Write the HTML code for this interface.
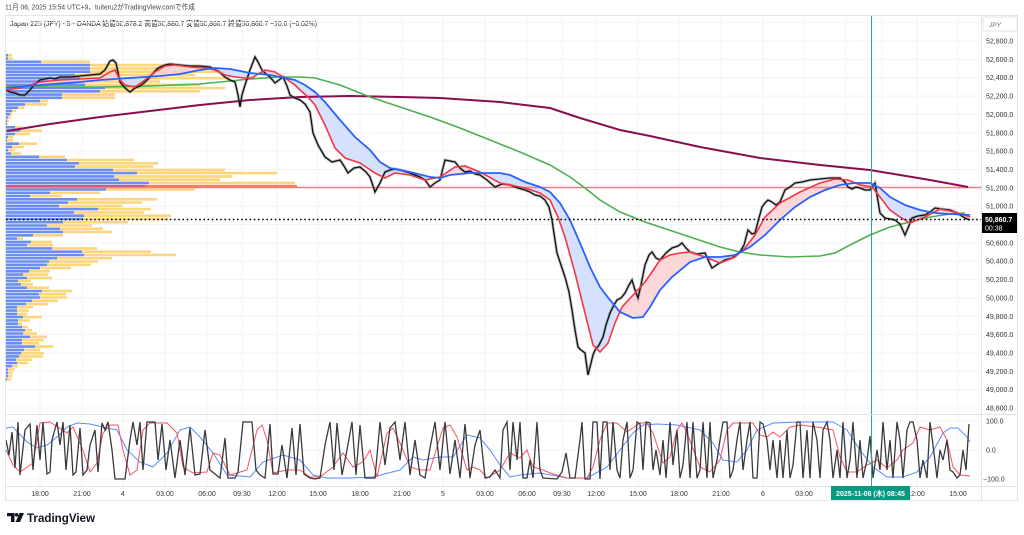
<!DOCTYPE html>
<html><head><meta charset="utf-8"><style>
html,body{margin:0;padding:0;background:#fff;width:1024px;height:535px;overflow:hidden}
svg{display:block}
text{font-family:"Liberation Sans","Noto Sans CJK JP",sans-serif}
</style></head><body>
<svg width="1024" height="535" viewBox="0 0 1024 535" xmlns="http://www.w3.org/2000/svg">
<defs>
<clipPath id="chart"><rect x="5" y="15" width="976" height="399"/></clipPath>
<clipPath id="osc"><rect x="5" y="415" width="976" height="71"/></clipPath>
<clipPath id="belowB"><polygon points="6,88 40,85 80,82 100,80 130,78 160,76 180,74 200,70 215,68 230,69 250,73 270,75 285,78 295,80 305,85 315,92 325,102 340,120 355,137 370,150 380,162 390,168 410,172 430,177 440,178 450,175 470,173 500,173 510,175 525,182 540,187 550,192 560,203 570,220 580,243 590,267 600,287 610,300 620,312 633,318 643,317 650,307 660,290 672,277 690,262 705,257 720,257 735,255 750,247 765,235 780,220 795,207 810,197 825,190 840,185 855,183 870,183 880,188 890,197 905,205 920,210 935,213 950,214 970,215 970,414 6,414"/></clipPath>
<clipPath id="aboveB"><polygon points="6,88 40,85 80,82 100,80 130,78 160,76 180,74 200,70 215,68 230,69 250,73 270,75 285,78 295,80 305,85 315,92 325,102 340,120 355,137 370,150 380,162 390,168 410,172 430,177 440,178 450,175 470,173 500,173 510,175 525,182 540,187 550,192 560,203 570,220 580,243 590,267 600,287 610,300 620,312 633,318 643,317 650,307 660,290 672,277 690,262 705,257 720,257 735,255 750,247 765,235 780,220 795,207 810,197 825,190 840,185 855,183 870,183 880,188 890,197 905,205 920,210 935,213 950,214 970,215 970,15 6,15"/></clipPath>
</defs>
<rect width="1024" height="535" fill="#fff"/>

<!-- header -->
<text x="5" y="9.5" font-size="7.5" fill="#444" textLength="190" lengthAdjust="spacingAndGlyphs">11月 06, 2025 15:54 UTC+9、tuiteru2がTradingView.comで作成</text>
<text x="10" y="26" font-size="7.5" fill="#222" textLength="307" lengthAdjust="spacingAndGlyphs">Japan 225 (JPY) - 5 - OANDA  始値50,878.2  高値50,880.7  安値50,860.7  終値50,860.7  −10.0 (−0.02%)</text>

<!-- grid -->
<g stroke="#f0f3fa" stroke-width="1">
<path d="M5 22.6H981M5 41H981M5 59.4H981M5 77.7H981M5 96.1H981M5 114.4H981M5 132.8H981M5 151.1H981M5 169.5H981M5 187.8H981M5 206.2H981M5 224.5H981M5 242.9H981M5 261.2H981M5 279.6H981M5 297.9H981M5 316.3H981M5 334.6H981M5 353H981M5 371.3H981M5 389.7H981M5 408H981"/>
<path d="M5 421H981M5 450H981M5 479H981"/>
<path d="M40 15V486M82 15V486M123 15V486M165 15V486M207 15V486M242 15V486M277 15V486M318 15V486M360 15V486M402 15V486M443 15V486M485 15V486M527 15V486M562 15V486M596 15V486M638 15V486M679 15V486M721 15V486M763 15V486M804 15V486M846 15V486M882 15V486M917 15V486M958 15V486"/>
</g>

<!-- volume profile -->
<g clip-path="url(#chart)">
<path fill="#6a8ef2" d="M6 54H8v2.6H6zM6 57.3H8v2.6H6zM6 60.5H41v2.6H6zM6 63.8H90v2.6H6zM6 67.1H90v2.6H6zM6 70.4H90v2.6H6zM6 73.6H75v2.6H6zM6 76.9H80v2.6H6zM6 80.2H80v2.6H6zM6 83.5H85v2.6H6zM6 86.7H105v2.6H6zM6 90H100v2.6H6zM6 93.3H62v2.6H6zM6 96.5H62v2.6H6zM6 99.8H40v2.6H6zM6 103.1H25v2.6H6zM6 106.4H18v2.6H6zM6 109.6H12v2.6H6zM6 112.9H10v2.6H6zM6 116.2H8v2.6H6zM6 119.5H7v2.6H6zM6 122.7H7v2.6H6zM6 126H15v2.6H6zM6 129.3H20v2.6H6zM6 132.6H15v2.6H6zM6 135.8H8v2.6H6zM6 139.1H7v2.6H6zM6 142.4H19v2.6H6zM6 145.6H12v2.6H6zM6 148.9H8v2.6H6zM6 152.2H11v2.6H6zM6 155.5H39v2.6H6zM6 158.7H67v2.6H6zM6 162H79v2.6H6zM6 165.3H75v2.6H6zM6 168.6H113v2.6H6zM6 171.8H137v2.6H6zM6 175.1H114v2.6H6zM6 178.4H119v2.6H6zM6 181.6H149v2.6H6zM6 184.9H145v2.6H6zM6 188.2H106v2.6H6zM6 191.5H50v2.6H6zM6 194.7H30v2.6H6zM6 198H77v2.6H6zM6 201.3H68v2.6H6zM6 204.6H59v2.6H6zM6 207.8H98v2.6H6zM6 211.1H74v2.6H6zM6 214.4H84v2.6H6zM6 217.7H83v2.6H6zM6 220.9H63v2.6H6zM6 224.2H47v2.6H6zM6 227.5H60v2.6H6zM6 230.7H63v2.6H6zM6 234H33v2.6H6zM6 237.3H17v2.6H6zM6 240.6H31v2.6H6zM6 243.8H27v2.6H6zM6 247.1H52v2.6H6zM6 250.4H82v2.6H6zM6 253.7H84v2.6H6zM6 256.9H57v2.6H6zM6 260.2H49v2.6H6zM6 263.5H47v2.6H6zM6 266.8H40v2.6H6zM6 270H29v2.6H6zM6 273.3H23v2.6H6zM6 276.6H27v2.6H6zM6 279.8H18v2.6H6zM6 283.1H21v2.6H6zM6 286.4H27v2.6H6zM6 289.7H42v2.6H6zM6 292.9H39v2.6H6zM6 296.2H40v2.6H6zM6 299.5H32v2.6H6zM6 302.8H26v2.6H6zM6 306H17v2.6H6zM6 309.3H17v2.6H6zM6 312.6H17v2.6H6zM6 315.8H23v2.6H6zM6 319.1H18v2.6H6zM6 322.4H18v2.6H6zM6 325.7H22v2.6H6zM6 328.9H25v2.6H6zM6 332.2H23v2.6H6zM6 335.5H30v2.6H6zM6 338.8H22v2.6H6zM6 342H22v2.6H6zM6 345.3H35v2.6H6zM6 348.6H24v2.6H6zM6 351.9H21v2.6H6zM6 355.1H19v2.6H6zM6 358.4H16v2.6H6zM6 361.7H17v2.6H6zM6 364.9H12v2.6H6zM6 368.2H8v2.6H6zM6 371.5H8v2.6H6zM6 374.8H8v2.6H6zM6 378H7v2.6H6z"/>
<path fill="#fdd57c" d="M8 54H12v2.6H8zM8 57.3H13v2.6H8zM41 60.5H90v2.6H41zM90 63.8H180v2.6H90zM90 67.1H205v2.6H90zM90 70.4H230v2.6H90zM75 73.6H195v2.6H75zM80 76.9H230v2.6H80zM80 80.2H160v2.6H80zM85 83.5H200v2.6H85zM105 86.7H225v2.6H105zM100 90H200v2.6H100zM62 93.3H115v2.6H62zM62 96.5H115v2.6H62zM40 99.8H48v2.6H40zM25 103.1H47v2.6H25zM18 106.4H24v2.6H18zM12 109.6H16v2.6H12zM10 112.9H12v2.6H10zM8 116.2H11v2.6H8zM7 119.5H9v2.6H7zM7 122.7H8v2.6H7zM15 126H22v2.6H15zM20 129.3H42v2.6H20zM15 132.6H30v2.6H15zM8 135.8H13v2.6H8zM7 139.1H13v2.6H7zM19 142.4H37v2.6H19zM12 145.6H24v2.6H12zM8 148.9H15v2.6H8zM11 152.2H21v2.6H11zM39 155.5H65v2.6H39zM67 158.7H134v2.6H67zM79 162H158v2.6H79zM75 165.3H153v2.6H75zM113 168.6H225v2.6H113zM137 171.8H277v2.6H137zM114 175.1H232v2.6H114zM119 178.4H220v2.6H119zM149 181.6H295v2.6H149zM145 184.9H297v2.6H145zM106 188.2H195v2.6H106zM50 191.5H100v2.6H50zM30 194.7H62v2.6H30zM77 198H157v2.6H77zM68 201.3H142v2.6H68zM59 204.6H122v2.6H59zM98 207.8H151v2.6H98zM74 211.1H144v2.6H74zM84 214.4H171v2.6H84zM83 217.7H168v2.6H83zM63 220.9H128v2.6H63zM47 224.2H92v2.6H47zM60 227.5H103v2.6H60zM63 230.7H112v2.6H63zM33 234H63v2.6H33zM17 237.3H23v2.6H17zM31 240.6H52v2.6H31zM27 243.8H53v2.6H27zM52 247.1H97v2.6H52zM82 250.4H151v2.6H82zM84 253.7H176v2.6H84zM57 256.9H112v2.6H57zM49 260.2H98v2.6H49zM47 263.5H91v2.6H47zM40 266.8H71v2.6H40zM29 270H50v2.6H29zM23 273.3H48v2.6H23zM27 276.6H52v2.6H27zM18 279.8H31v2.6H18zM21 283.1H33v2.6H21zM27 286.4H49v2.6H27zM42 289.7H72v2.6H42zM39 292.9H66v2.6H39zM40 296.2H67v2.6H40zM32 299.5H58v2.6H32zM26 302.8H48v2.6H26zM17 306H33v2.6H17zM17 309.3H29v2.6H17zM17 312.6H27v2.6H17zM23 315.8H42v2.6H23zM18 319.1H30v2.6H18zM18 322.4H22v2.6H18zM22 325.7H28v2.6H22zM25 328.9H32v2.6H25zM23 332.2H37v2.6H23zM30 335.5H47v2.6H30zM22 338.8H44v2.6H22zM22 342H39v2.6H22zM35 345.3H53v2.6H35zM24 348.6H40v2.6H24zM21 351.9H44v2.6H21zM19 355.1H43v2.6H19zM16 358.4H32v2.6H16zM17 361.7H28v2.6H17zM12 364.9H18v2.6H12zM8 368.2H15v2.6H8zM8 371.5H13v2.6H8zM8 374.8H12v2.6H8zM7 378H11v2.6H7z"/>
<rect x="6" y="184.9" width="291" height="2.6" fill="#f23645" opacity="0.55"/>

<!-- MA fills -->
<polygon clip-path="url(#belowB)" fill="#d2defd" opacity="0.9" points="6,90 20,88 40,82 60,80 80,79 100,78 110,72 115,70 120,80 125,85 135,87 145,80 155,72 165,66 175,65 190,67 205,68 215,70 225,75 235,77 245,78 252,78 258,74 265,70 275,72 285,78 295,85 300,90 308,97 315,105 325,125 335,148 345,158 360,163 375,173 385,178 395,173 410,175 425,180 440,177 455,167 465,166 480,172 500,183 525,188 540,193 550,200 558,217 565,237 575,273 585,313 593,345 600,352 608,343 615,323 622,307 635,293 645,282 652,272 660,260 670,255 680,253 690,252 705,257 720,263 735,257 745,248 755,235 765,217 780,203 800,192 820,183 835,179 848,180 860,185 872,187 880,197 890,210 900,217 910,223 925,217 940,209 955,212 970,217 970,15 6,15"/>
<polygon clip-path="url(#aboveB)" fill="#fbd3d6" opacity="0.9" points="6,90 20,88 40,82 60,80 80,79 100,78 110,72 115,70 120,80 125,85 135,87 145,80 155,72 165,66 175,65 190,67 205,68 215,70 225,75 235,77 245,78 252,78 258,74 265,70 275,72 285,78 295,85 300,90 308,97 315,105 325,125 335,148 345,158 360,163 375,173 385,178 395,173 410,175 425,180 440,177 455,167 465,166 480,172 500,183 525,188 540,193 550,200 558,217 565,237 575,273 585,313 593,345 600,352 608,343 615,323 622,307 635,293 645,282 652,272 660,260 670,255 680,253 690,252 705,257 720,263 735,257 745,248 755,235 765,217 780,203 800,192 820,183 835,179 848,180 860,185 872,187 880,197 890,210 900,217 910,223 925,217 940,209 955,212 970,217 970,414 6,414"/>

<line x1="6" y1="187.5" x2="981" y2="187.5" stroke="#f77c80" stroke-width="1.4"/>

<polyline fill="none" stroke="#880e4f" stroke-width="2" points="7,131 50,124 100,117 150,111 200,105 250,100 300,97 350,96 400,97 440,98 500,102 550,108 580,118 620,130 650,136 700,147 760,158 820,165 870,170 900,175 930,180 968,187"/>
<polyline fill="none" stroke="#4caf50" stroke-width="1.6" points="6,86 50,87 100,87 150,86 200,84 250,79 280,77 300,77 315,78 340,85 370,97 400,107 430,117 460,128 490,140 520,152 550,165 570,177 585,188 600,200 620,212 645,222 660,227 690,237 720,247 740,252 760,255 790,257 820,256 835,253 850,245 870,235 890,227 910,222 930,217 950,214 965,213"/>

<polyline fill="none" stroke="#777" stroke-width="3" opacity="0.45" points="6,90 10,92 15,93 20,95 25,95 30,90 35,84 40,80 45,79 50,78 55,79 60,77 70,77 80,76 90,75 100,74 105,70 110,61 113,60 116,63 120,82 125,88 130,92 135,88 140,86 145,82 150,77 155,71 158,68 165,65 170,64 180,65 190,66 200,66 210,67 218,71 225,77 230,80 235,82 238,95 240,107 242,95 245,85 250,70 255,57 258,62 262,70 266,74 270,77 275,83 279,80 283,77 287,86 290,95 295,98 300,100 305,104 310,112 313,133 318,145 325,157 332,162 340,160 344,166 348,173 354,168 360,167 366,172 370,177 375,192 380,183 385,172 390,170 395,169 400,170 410,173 420,177 425,180 430,187 435,183 440,180 443,168 445,160 450,161 455,162 460,168 465,172 470,171 475,174 480,175 487,180 495,187 502,184 510,185 518,188 525,190 530,192 535,195 540,196 545,200 549,207 552,220 555,240 557,253 561,265 565,277 569,292 572,310 575,330 578,347 581,350 585,353 588,375 590,367 593,355 595,350 599,345 603,337 606,325 610,313 614,305 617,300 621,298 625,293 629,285 632,280 635,290 638,298 641,285 645,265 649,255 652,252 656,258 660,260 666,253 672,248 678,246 682,243 686,248 690,252 697,254 705,253 709,262 712,268 718,264 725,260 732,258 740,252 744,245 748,230 752,234 755,233 759,218 762,207 765,203 768,200 772,202 776,205 780,202 785,190 790,187 795,183 802,182 810,180 820,179 830,178 840,178 845,182 848,187 852,189 856,187 860,188 865,190 870,190 875,183 877,195 880,213 883,216 885,218 890,219 895,220 900,224 905,235 908,228 912,218 918,216 925,215 930,212 935,208 942,209 950,210 955,212 960,215 965,218 970,220"/>
<polyline fill="none" stroke="#111" stroke-width="1.3" points="6,90 10,92 15,93 20,95 25,95 30,90 35,84 40,80 45,79 50,78 55,79 60,77 70,77 80,76 90,75 100,74 105,70 110,61 113,60 116,63 120,82 125,88 130,92 135,88 140,86 145,82 150,77 155,71 158,68 165,65 170,64 180,65 190,66 200,66 210,67 218,71 225,77 230,80 235,82 238,95 240,107 242,95 245,85 250,70 255,57 258,62 262,70 266,74 270,77 275,83 279,80 283,77 287,86 290,95 295,98 300,100 305,104 310,112 313,133 318,145 325,157 332,162 340,160 344,166 348,173 354,168 360,167 366,172 370,177 375,192 380,183 385,172 390,170 395,169 400,170 410,173 420,177 425,180 430,187 435,183 440,180 443,168 445,160 450,161 455,162 460,168 465,172 470,171 475,174 480,175 487,180 495,187 502,184 510,185 518,188 525,190 530,192 535,195 540,196 545,200 549,207 552,220 555,240 557,253 561,265 565,277 569,292 572,310 575,330 578,347 581,350 585,353 588,375 590,367 593,355 595,350 599,345 603,337 606,325 610,313 614,305 617,300 621,298 625,293 629,285 632,280 635,290 638,298 641,285 645,265 649,255 652,252 656,258 660,260 666,253 672,248 678,246 682,243 686,248 690,252 697,254 705,253 709,262 712,268 718,264 725,260 732,258 740,252 744,245 748,230 752,234 755,233 759,218 762,207 765,203 768,200 772,202 776,205 780,202 785,190 790,187 795,183 802,182 810,180 820,179 830,178 840,178 845,182 848,187 852,189 856,187 860,188 865,190 870,190 875,183 877,195 880,213 883,216 885,218 890,219 895,220 900,224 905,235 908,228 912,218 918,216 925,215 930,212 935,208 942,209 950,210 955,212 960,215 965,218 970,220"/>

<polyline fill="none" stroke="#f23645" stroke-width="1.6" points="6,90 20,88 40,82 60,80 80,79 100,78 110,72 115,70 120,80 125,85 135,87 145,80 155,72 165,66 175,65 190,67 205,68 215,70 225,75 235,77 245,78 252,78 258,74 265,70 275,72 285,78 295,85 300,90 308,97 315,105 325,125 335,148 345,158 360,163 375,173 385,178 395,173 410,175 425,180 440,177 455,167 465,166 480,172 500,183 525,188 540,193 550,200 558,217 565,237 575,273 585,313 593,345 600,352 608,343 615,323 622,307 635,293 645,282 652,272 660,260 670,255 680,253 690,252 705,257 720,263 735,257 745,248 755,235 765,217 780,203 800,192 820,183 835,179 848,180 860,185 872,187 880,197 890,210 900,217 910,223 925,217 940,209 955,212 970,217"/>
<polyline fill="none" stroke="#2962ff" stroke-width="1.8" points="6,88 40,85 80,82 100,80 130,78 160,76 180,74 200,70 215,68 230,69 250,73 270,75 285,78 295,80 305,85 315,92 325,102 340,120 355,137 370,150 380,162 390,168 410,172 430,177 440,178 450,175 470,173 500,173 510,175 525,182 540,187 550,192 560,203 570,220 580,243 590,267 600,287 610,300 620,312 633,318 643,317 650,307 660,290 672,277 690,262 705,257 720,257 735,255 750,247 765,235 780,220 795,207 810,197 825,190 840,185 855,183 870,183 880,188 890,197 905,205 920,210 935,213 950,214 970,215"/>

<line x1="6" y1="219.5" x2="981" y2="219.5" stroke="#000" stroke-width="1.6" stroke-dasharray="1.6 2.6"/>
</g>

<!-- oscillator -->
<g clip-path="url(#osc)" fill="none">
<polyline stroke="#5b8cff" stroke-width="1" points="6,428 13,427 27,442 37,448 47,445 57,437 67,427 77,423 90,424 107,428 117,430 127,450 140,462 153,467 167,453 180,430 190,427 200,437 213,453 227,475 240,476 250,477 263,462 283,455 300,460 313,475 327,478 350,478 373,477 400,470 413,457 423,460 440,457 453,457 467,435 480,438 490,450 500,465 510,477 520,475 540,473 567,478 587,478 607,467 620,450 633,433 643,425 657,424 677,425 700,430 713,443 723,460 737,462 747,450 757,430 773,423 800,422 833,422 847,430 860,450 873,467 887,477 903,477 917,472 930,457 943,433 950,428 958,428 967,437 970,442"/>
<polyline stroke="#f7525f" stroke-width="1" points="6,450 13,465 20,472 33,463 40,423 50,422 67,433 73,427 83,450 90,472 97,463 103,433 110,425 118,425 123,450 130,475 137,470 143,430 150,423 167,423 177,433 183,467 193,473 207,472 213,453 220,455 230,475 247,470 257,430 262,425 267,440 273,473 287,470 300,470 310,477 320,477 333,467 343,453 353,467 363,462 370,450 377,477 387,433 393,428 400,443 410,467 420,470 430,470 437,447 443,428 450,425 457,437 467,470 473,467 480,470 487,478 500,470 510,453 520,458 527,450 533,467 543,470 550,473 567,478 587,478 593,467 600,440 607,423 617,423 627,432 640,423 647,423 653,433 663,463 670,457 677,430 682,423 687,433 700,467 710,472 720,460 727,430 733,423 753,423 760,435 767,437 773,432 780,437 790,427 800,425 817,427 833,430 840,457 847,472 857,472 867,465 877,460 887,468 897,460 903,450 913,443 920,427 930,430 940,427 947,440 953,467 960,475 970,476"/>
<polyline stroke="#3a3a3a" stroke-width="1.3" points="6,440 9,455 12,432 15,468 18,422 20,475 25,430 30,424 33,470 37,425 40,460 43,422 47,474 50,472 52,440 57,422 60,445 63,422 66,470 70,425 73,475 76,472 80,428 83,475 87,470 90,445 95,430 98,472 102,423 105,430 108,422 112,450 115,479 125,479 130,440 133,422 137,445 140,422 143,470 147,422 155,422 158,460 162,424 166,470 170,440 175,478 180,440 185,475 190,428 195,475 200,474 205,430 210,470 215,474 220,478 225,438 228,478 235,478 238,472 243,422 252,422 256,470 260,475 265,478 270,424 273,474 278,474 282,445 287,478 292,428 296,475 300,424 304,474 310,478 315,479 320,478 325,445 330,422 334,470 337,423 342,475 347,450 352,422 356,475 360,425 365,478 375,478 380,422 385,465 390,428 395,422 400,460 405,422 410,475 415,440 420,475 425,478 430,448 435,422 440,470 445,422 450,474 455,440 460,478 465,424 470,478 475,445 480,430 485,478 490,477 495,470 500,478 503,430 507,422 510,470 513,422 517,460 520,422 523,478 527,478 530,460 533,478 537,422 540,470 543,478 557,479 562,472 566,453 570,478 575,478 580,440 582,422 585,479 590,479 593,422 597,422 600,479 603,422 607,422 610,470 613,422 617,470 620,478 623,440 627,422 630,478 633,470 637,422 640,424 643,470 646,422 650,423 653,470 656,450 660,475 663,440 666,478 670,422 673,465 677,430 680,478 683,465 687,422 690,478 693,422 697,478 700,470 703,422 707,478 710,422 713,478 717,460 720,440 723,422 727,422 730,478 733,470 737,440 740,422 743,470 747,440 750,422 753,478 757,478 760,422 763,424 767,440 770,470 773,440 777,478 780,440 783,478 787,430 790,478 793,465 797,422 800,422 803,478 807,430 810,478 813,422 817,440 820,478 823,430 827,422 830,440 833,478 837,450 840,478 843,422 847,478 850,460 853,422 857,478 860,440 863,478 867,460 870,436 873,478 877,450 880,470 883,422 887,470 890,440 893,478 897,422 900,440 903,478 907,430 910,422 913,422 917,440 920,478 923,460 927,478 930,422 933,445 937,478 940,450 943,460 947,440 950,470 953,472 957,478 960,475 963,450 966,470 969,424"/>
</g>

<!-- crosshair -->
<line x1="871.5" y1="15" x2="871.5" y2="486" stroke="#26a69a" stroke-width="1"/>

<!-- frame -->
<g stroke="#e0e3eb" stroke-width="1" fill="none">
<rect x="5.5" y="15.5" width="1012" height="485"/>
<line x1="981.5" y1="15" x2="981.5" y2="501"/>
<line x1="5" y1="414.5" x2="1018" y2="414.5"/>
<line x1="5" y1="486.5" x2="1018" y2="486.5"/>
</g>

<!-- right axis -->
<rect x="983" y="17" width="34" height="14" rx="2" fill="#fff" stroke="#e0e3eb"/>
<text x="989" y="27" font-size="6.5" fill="#666" font-style="italic">JPY</text>
<g font-size="7" fill="#333">
<text x="986" y="43.5">52,800.0</text>
<text x="986" y="61.9">52,600.0</text>
<text x="986" y="80.2">52,400.0</text>
<text x="986" y="98.6">52,200.0</text>
<text x="986" y="116.9">52,000.0</text>
<text x="986" y="135.3">51,800.0</text>
<text x="986" y="153.6">51,600.0</text>
<text x="986" y="172">51,400.0</text>
<text x="986" y="190.3">51,200.0</text>
<text x="986" y="208.7">51,000.0</text>
<text x="986" y="245.4">50,600.0</text>
<text x="986" y="263.7">50,400.0</text>
<text x="986" y="282.1">50,200.0</text>
<text x="986" y="300.4">50,000.0</text>
<text x="986" y="318.8">49,800.0</text>
<text x="986" y="337.1">49,600.0</text>
<text x="986" y="355.5">49,400.0</text>
<text x="986" y="373.8">49,200.0</text>
<text x="986" y="392.2">49,000.0</text>
<text x="986" y="410.5">48,800.0</text>
<text x="986" y="423.5">100.0</text>
<text x="986" y="452.5">0.0</text>
<text x="983" y="481.5">−100.0</text>
</g>
<rect x="982" y="213" width="35" height="20" fill="#000"/>
<text x="985" y="222" font-size="7" font-weight="bold" fill="#fff">50,860.7</text>
<text x="985" y="230.5" font-size="7" fill="#fff">00:38</text>

<!-- time axis -->
<g font-size="7" fill="#333" text-anchor="middle">
<text x="40" y="496">18:00</text>
<text x="82" y="496">21:00</text>
<text x="123" y="496">4</text>
<text x="165" y="496">03:00</text>
<text x="207" y="496">06:00</text>
<text x="242" y="496">09:30</text>
<text x="277" y="496">12:00</text>
<text x="318" y="496">15:00</text>
<text x="360" y="496">18:00</text>
<text x="402" y="496">21:00</text>
<text x="443" y="496">5</text>
<text x="485" y="496">03:00</text>
<text x="527" y="496">06:00</text>
<text x="562" y="496">09:30</text>
<text x="596" y="496">12:00</text>
<text x="638" y="496">15:00</text>
<text x="679" y="496">18:00</text>
<text x="721" y="496">21:00</text>
<text x="763" y="496">6</text>
<text x="804" y="496">03:00</text>
<text x="916" y="496">12:00</text>
<text x="958" y="496">15:00</text>
</g>
<rect x="831" y="486" width="79" height="14" fill="#089981"/>
<text x="870.5" y="496" font-size="7" fill="#fff" text-anchor="middle" font-weight="bold">2025-11-06 (木)   08:45</text>

<!-- logo -->
<g fill="#131722">
<path d="M7 513H14.5V522H11V516.2H7Z"/>
<circle cx="16.6" cy="514.8" r="1.8"/>
<path d="M19.5 513H24L20 522H15.6Z"/>
</g>
<text x="27" y="522" font-size="11.5" font-weight="bold" fill="#131722" textLength="68" lengthAdjust="spacingAndGlyphs">TradingView</text>
</svg>
</body></html>
